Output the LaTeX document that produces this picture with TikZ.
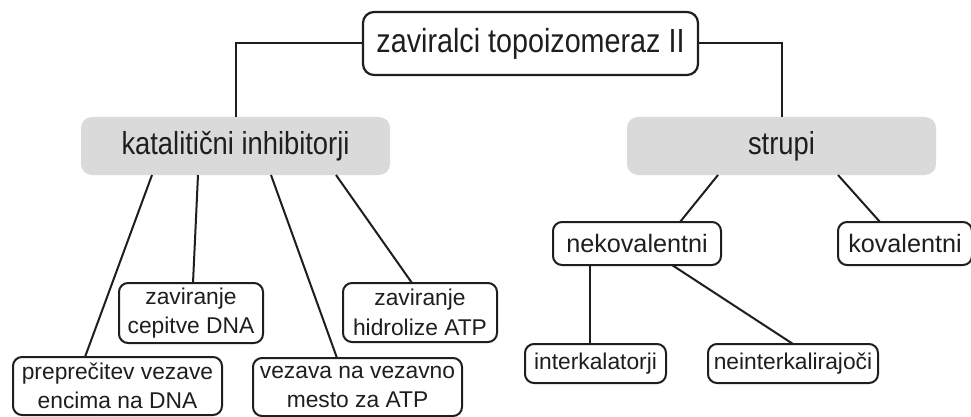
\documentclass[tikz,border=0pt]{standalone}
\usepackage{fontspec}
\setmainfont{Liberation Sans}
\newfontfamily\condfont[FakeStretch=0.86]{Liberation Sans}
\usetikzlibrary{calc}
\definecolor{boxgrey}{HTML}{DADADA}
\definecolor{ink}{HTML}{1E1E1E}
\begin{document}
\begin{tikzpicture}[x=1pt,y=-1pt,
  every node/.style={inner sep=0pt,outer sep=0pt,align=center,text=ink},
  rootbox/.style={draw=ink,line width=2.2pt,rounded corners=11pt,fill=white,font=\condfont\fontsize{33.4}{36}\selectfont},
  greybox/.style={fill=boxgrey,rounded corners=11pt,font=\condfont\fontsize{31.8}{36}\selectfont},
  leafbox/.style={draw=ink,line width=2pt,rounded corners=9pt,fill=white,font=\fontsize{22.8}{29.5}\selectfont},
  midbox/.style={draw=ink,line width=2pt,rounded corners=9pt,fill=white,font=\fontsize{25.2}{30}\selectfont},
  link/.style={draw=ink,line width=2pt}]
\useasboundingbox (0,0) rectangle (971,417);
\fill[white] (0,0) rectangle (971,417);
% nodes
\node[rootbox,minimum width=335pt,minimum height=63pt] (root) at (530.5,43.5) {zaviralci topoizomeraz II};
\node[greybox,minimum width=309pt,minimum height=58pt] (kat) at (235.5,146) {katalitični inhibitorji};
\node[greybox,minimum width=309pt,minimum height=58pt] (str) at (781.5,146) {strupi};
% connectors (drawn before leaf boxes)
\draw[link] (root.west) -| (kat.north);
\draw[link] (root.east) -| (str.north);
\coordinate (k1) at ([xshift=71pt]kat.south west);
\coordinate (k2) at ([xshift=117pt]kat.south west);
\coordinate (k3) at ([xshift=190pt]kat.south west);
\coordinate (k4) at ([xshift=255pt]kat.south west);
\coordinate (s1) at ([xshift=91pt]str.south west);
\coordinate (s2) at ([xshift=211pt]str.south west);
\node[leafbox,minimum width=209pt,minimum height=58pt] (prep) at (117.5,386) {preprečitev vezave\\encima na DNA};
\node[leafbox,minimum width=144pt,minimum height=60pt] (cep) at (191,313) {zaviranje\\cepitve DNA};
\node[leafbox,minimum width=209pt,minimum height=58pt] (vez) at (357.5,387) {vezava na vezavno\\mesto za ATP};
\node[leafbox,minimum width=154pt,minimum height=59pt] (hid) at (420,312.5) {zaviranje\\hidrolize ATP};
\node[midbox,minimum width=168pt,minimum height=43pt] (nek) at (637,243.5) {nekovalentni};
\node[midbox,minimum width=134pt,minimum height=43pt] (kov) at (905,243.5) {kovalentni};
\node[leafbox,minimum width=141pt,minimum height=39pt] (int) at (595.5,363.5) {interkalatorji};
\node[leafbox,minimum width=170pt,minimum height=39pt] (nei) at (793,363.5) {neinterkalirajoči};
\draw[link] (k1) -- ([xshift=72pt]prep.north west);
\draw[link] (k2) -- ([xshift=74pt]cep.north west);
\draw[link] (k3) -- ([xshift=84pt]vez.north west);
\draw[link] (k4) -- ([xshift=69pt]hid.north west);
\draw[link] (s1) -- ([xshift=127pt]nek.north west);
\draw[link] (s2) -- ([xshift=42pt]kov.north west);
\draw[link] ([xshift=37pt]nek.south west) -- ([xshift=65pt]int.north west);
\draw[link] ([xshift=119pt]nek.south west) -- ([xshift=85pt]nei.north west);
\end{tikzpicture}
\end{document}
